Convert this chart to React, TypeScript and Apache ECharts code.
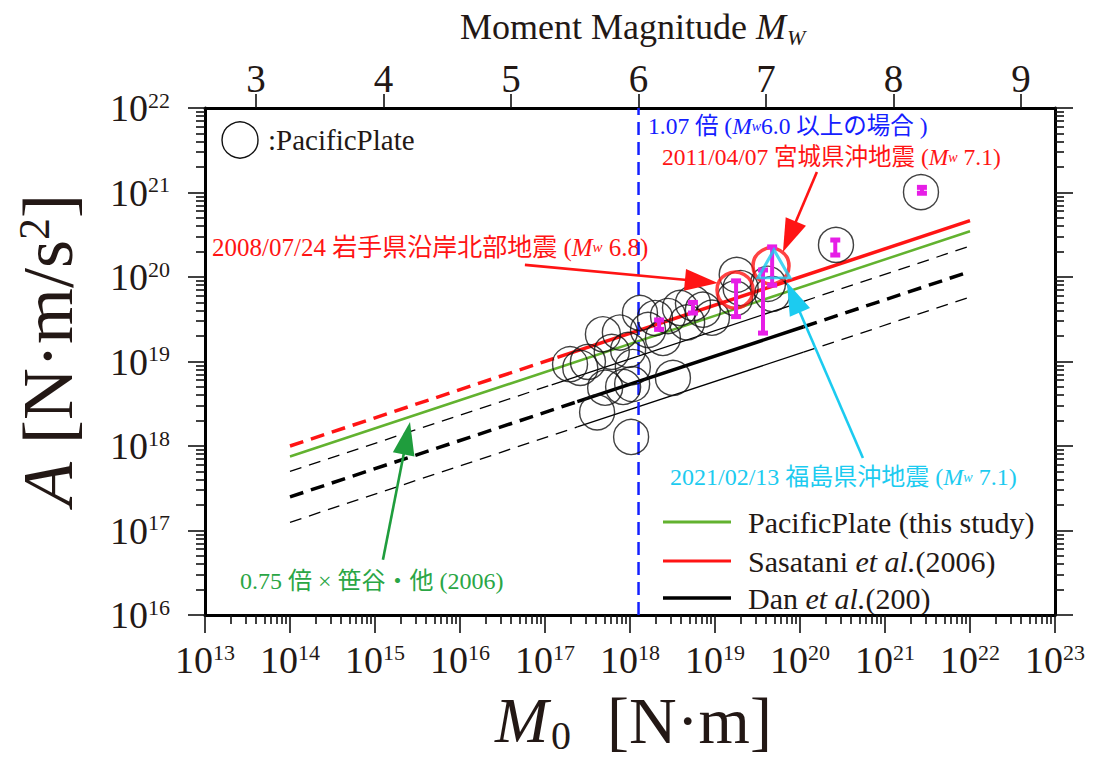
import React, { useEffect, useRef } from "react";
import * as echarts from "echarts";

// ---------- tick values ----------
const xMajorTicks = [1e13, 1e14, 1e15, 1e16, 1e17, 1e18, 1e19, 1e20, 1e21, 1e22, 1e23];
const yMajorTicks = [1e16, 1e17, 1e18, 1e19, 1e20, 1e21, 1e22];
const mwTicks = [3, 4, 5, 6, 7, 8, 9];
const minorMantissas = [2, 3, 4, 5, 6, 7, 8, 9];

// ---------- data (M0 [N·m], A [N·m/s^2]) ----------
const pacificCircles: [number, number][] = [
  [1.97e17, 9.3e18], [3.2e17, 9.9e18], [2.6e17, 8.4e18], [4.1e17, 2.5e18], [5.1e17, 4.9e18],
  [4.8e17, 2.1e19], [6.1e17, 1.3e19], [7.6e17, 2.2e19], [9.5e17, 1.37e19], [8.3e17, 5.0e18],
  [1.06e18, 5.4e18], [1.08e18, 8.6e18], [1.03e18, 1.28e18], [1.31e18, 3.75e19], [1.63e18, 2.36e19],
  [1.97e18, 3.27e19], [2.44e18, 1.9e19], [2.8e18, 3.45e19], [3.2e18, 6.4e18], [3.87e18, 4.3e19],
  [4.7e18, 2.9e19], [5.5e18, 4.9e19], [7.2e18, 4.1e19], [9.2e18, 3.3e19], [1.8e19, 1.06e20],
  [2.0e19, 7.4e19], [1.72e19, 5.6e19], [4.2e19, 8.3e19], [4.7e19, 6.3e19], [2.65e20, 2.4e20],
  [2.65e21, 1.01e21],
];
const highlightCircles: [number, number][] = [[1.72e19, 7.0e19], [4.56e19, 1.35e20]];
const fukushimaTriangle: [number, number][] = [[4.94e19, 1.43e20]];
// [M0, A low, A high]
const errorBars: [number, number, number][] = [
  [2.2e18, 2.4e19, 3.1e19], [5.5e18, 3.75e19, 5.0e19], [1.77e19, 3.4e19, 9.0e19],
  [3.67e19, 2.17e19, 1.21e20], [4.7e19, 8.0e19, 2.27e20], [2.6e20, 1.82e20, 2.74e20],
  [2.72e21, 9.8e20, 1.15e21],
];

const pacificLine: [number, number][] = [[1e14, 7.5e17], [1e22, 3.48e20]];
const sasataniDashed: [number, number][] = [[1e14, 1.0e18], [1.4e17, 1.12e19]];
const sasataniSolid: [number, number][] = [[1.4e17, 1.12e19], [1e22, 4.64e20]];
const danDashedLow: [number, number][] = [[1e14, 2.5e17], [2.4e17, 3.35e18]];
const danSolid: [number, number][] = [[2.4e17, 3.35e18], [1.1e20, 2.58e19]];
const danDashedHigh: [number, number][] = [[1.1e20, 2.58e19], [1e22, 1.16e20]];
const danUpperDashedLow: [number, number][] = [[1e14, 5.0e17], [1.2e17, 5.3e18]];
const danUpperSolid: [number, number][] = [[1.2e17, 5.3e18], [1.1e20, 5.16e19]];
const danUpperDashedHigh: [number, number][] = [[1.1e20, 5.16e19], [1e22, 2.32e20]];
const danLowerDashedLow: [number, number][] = [[1e14, 1.25e17], [2.4e17, 1.68e18]];
const danLowerSolid: [number, number][] = [[2.4e17, 1.68e18], [1.1e20, 1.29e19]];
const danLowerDashedHigh: [number, number][] = [[1.1e20, 1.29e19], [1e22, 5.8e19]];
const mw6Line: [number, number][] = [[1.26e18, 1e16], [1.26e18, 1e22]];

// arrows: [fromM0, fromA, toM0, toA]
const arrowData: number[][] = [
  [1.24e15, 4.5e16, 2.58e15, 1.92e18],
  [5.8e16, 1.39e20, 1.08e19, 8.5e19],
  [1.58e20, 1.75e21, 6.3e19, 1.98e20],
  [5.5e20, 7.2e17, 7.0e19, 8.7e19],
];

// ---------- styles ----------
const serif = "'Liberation Serif','Times New Roman',serif";
const jp = "'Liberation Serif','Noto Sans CJK JP',sans-serif";
const dark = "#231815";
const RED = "#ff1414";
const GREEN_LINE = "#62b22f";
const GREEN_TXT = "#2aa645";
const BLUE = "#1420ff";
const CYAN = "#1ccbf0";
const MAGENTA = "#e61ee6";
const arrowColors = ["#1f9d3d", RED, RED, CYAN];

const minorOf = (decs: number[]) => {
  const out: number[] = [];
  for (let i = 0; i < decs.length - 1; i++) for (const m of minorMantissas) out.push(decs[i] * m);
  return out;
};
// nudge the end values inward by a hair so the axis extent check keeps the end ticks
const safe = (arr: number[]) =>
  arr.map((v, i) => (i === 0 ? v * 1.000001 : i === arr.length - 1 ? v * 0.999999 : v));

const powLabel = (v: number) => `{b|10}{s|${Math.round(Math.log10(v))}}`;
const powRich = {
  b: { fontSize: 38, fontFamily: serif, color: dark, lineHeight: 38 },
  s: { fontSize: 22, fontFamily: serif, color: dark, lineHeight: 22, verticalAlign: "top" },
};
const tickStyle = { color: "#111", width: 1.6 };
const frameLine = { show: true, lineStyle: { color: "#000", width: 3 } };

const lineSeries = (data: [number, number][], color: string, width: number, type: any, z = 3, name?: string) => ({
  type: "line",
  name,
  data,
  xAxisIndex: 0,
  yAxisIndex: 0,
  symbol: "none",
  showSymbol: false,
  silent: true,
  z,
  lineStyle: { color, width, type, cap: "butt" },
});

const mwRich = (size: number, color: string) => ({
  i: { fontSize: size, fontFamily: serif, fontStyle: "italic", fill: color },
  w: { fontSize: Math.round(size * 0.6), fontFamily: serif, fontStyle: "italic", fill: color },
});

const txt = (x: number, y: number, text: string, fontSize: number, fill: string, extra: any = {}) => ({
  type: "text",
  x,
  y,
  silent: true,
  style: { text, fontSize, fontFamily: serif, fill, verticalAlign: "middle", ...extra },
});

function buildOption(): any {
  return {
    animation: false,
    backgroundColor: "#fff",
    grid: { left: 205, right: 39, top: 108, bottom: 146, show: false, outerBoundsMode: "none" },
    xAxis: [
      {
        type: "log", min: 1e13, max: 1e23, position: "bottom", gridIndex: 0,
        axisLine: frameLine, splitLine: { show: false },
        axisTick: { show: true, customValues: safe(xMajorTicks), length: 18, lineStyle: tickStyle },
        axisLabel: { customValues: safe(xMajorTicks), formatter: powLabel, margin: 26, rich: powRich },
      },
      {
        type: "log", min: 1e13, max: 1e23, position: "bottom", gridIndex: 0,
        axisLine: { show: false }, splitLine: { show: false }, axisLabel: { show: false },
        axisTick: { show: true, customValues: minorOf(xMajorTicks), length: 9, lineStyle: tickStyle },
      },
      {
        type: "value", min: 2.6, max: (23 - 9.1) / 1.5, position: "top", gridIndex: 0,
        axisLine: frameLine, splitLine: { show: false },
        axisTick: { show: true, customValues: mwTicks, length: 14, lineStyle: tickStyle },
        axisLabel: {
          customValues: mwTicks, margin: 14, fontSize: 39, fontFamily: serif, color: dark, lineHeight: 32,
          formatter: (v: number) => String(Math.round(v)),
        },
      },
    ],
    yAxis: [
      {
        type: "log", min: 1e16, max: 1e22, position: "left", gridIndex: 0,
        axisLine: frameLine, splitLine: { show: false },
        axisTick: { show: true, customValues: safe(yMajorTicks), length: 17, lineStyle: tickStyle },
        axisLabel: { customValues: safe(yMajorTicks), formatter: powLabel, margin: 35, rich: powRich },
      },
      {
        type: "log", min: 1e16, max: 1e22, position: "left", gridIndex: 0,
        axisLine: { show: false }, splitLine: { show: false }, axisLabel: { show: false },
        axisTick: { show: true, customValues: minorOf(yMajorTicks), length: 9, lineStyle: tickStyle },
      },
      {
        type: "log", min: 1e16, max: 1e22, position: "right", gridIndex: 0,
        axisLine: frameLine, splitLine: { show: false }, axisLabel: { show: false },
        axisTick: { show: true, customValues: safe(yMajorTicks), length: 18, lineStyle: tickStyle },
      },
      {
        type: "log", min: 1e16, max: 1e22, position: "right", gridIndex: 0,
        axisLine: { show: false }, splitLine: { show: false }, axisLabel: { show: false },
        axisTick: { show: true, customValues: minorOf(yMajorTicks), length: 9, lineStyle: tickStyle },
      },
    ],
    series: [
      lineSeries(danLowerDashedLow, "#000", 1.3, [12, 8]),
      lineSeries(danLowerSolid, "#000", 1.3, "solid"),
      lineSeries(danLowerDashedHigh, "#000", 1.3, [12, 8]),
      lineSeries(danUpperDashedLow, "#000", 1.3, [12, 8]),
      lineSeries(danUpperSolid, "#000", 1.3, "solid"),
      lineSeries(danUpperDashedHigh, "#000", 1.3, [12, 8]),
      lineSeries(danDashedLow, "#000", 3.5, [14, 8]),
      lineSeries(danSolid, "#000", 3.5, "solid", 3, "Dan et al.(200)"),
      lineSeries(danDashedHigh, "#000", 3.5, [14, 8]),
      lineSeries(pacificLine, GREEN_LINE, 2.5, "solid", 4, "PacificPlate (this study)"),
      lineSeries(sasataniDashed, RED, 3.5, [14, 8], 4),
      lineSeries(sasataniSolid, RED, 3.5, "solid", 4, "Sasatani et al.(2006)"),
      lineSeries(mw6Line, BLUE, 2.5, [13, 7], 5),
      {
        type: "scatter", data: pacificCircles, xAxisIndex: 0, yAxisIndex: 0, silent: true, z: 6,
        symbol: "circle", symbolSize: 35,
        itemStyle: { color: "rgba(0,0,0,0)", borderColor: "#111", borderWidth: 1.4 },
      },
      {
        type: "scatter", data: highlightCircles, xAxisIndex: 0, yAxisIndex: 0, silent: true, z: 7,
        symbol: "circle", symbolSize: 36,
        itemStyle: { color: "rgba(0,0,0,0)", borderColor: RED, borderWidth: 3.5 },
      },
      {
        type: "custom", data: errorBars, xAxisIndex: 0, yAxisIndex: 0, silent: true, z: 8,
        encode: { x: 0, y: [1, 2] },
        renderItem: (_p: any, api: any) => {
          const lo = api.coord([api.value(0), api.value(1)]);
          const hi = api.coord([api.value(0), api.value(2)]);
          return {
            type: "group",
            children: [
              { type: "line", shape: { x1: lo[0], y1: lo[1], x2: hi[0], y2: hi[1] }, style: { stroke: MAGENTA, lineWidth: 4 } },
              { type: "rect", shape: { x: lo[0] - 5, y: lo[1] - 2.5, width: 10, height: 5 }, style: { fill: MAGENTA } },
              { type: "rect", shape: { x: hi[0] - 5, y: hi[1] - 2.5, width: 10, height: 5 }, style: { fill: MAGENTA } },
            ],
          };
        },
      },
      {
        type: "scatter", data: fukushimaTriangle, xAxisIndex: 0, yAxisIndex: 0, silent: true, z: 9,
        symbol: "triangle", symbolSize: [32, 28],
        itemStyle: { color: "rgba(0,0,0,0)", borderColor: CYAN, borderWidth: 3 },
      },
      {
        type: "custom", data: arrowData, xAxisIndex: 0, yAxisIndex: 0, silent: true, z: 10,
        encode: { x: [0, 2], y: [1, 3] },
        renderItem: (params: any, api: any) => {
          const p1 = api.coord([api.value(0), api.value(1)]);
          const p2 = api.coord([api.value(2), api.value(3)]);
          const color = arrowColors[params.dataIndex];
          const dx = p2[0] - p1[0], dy = p2[1] - p1[1];
          const len = Math.hypot(dx, dy) || 1;
          const ux = dx / len, uy = dy / len;
          const hl = 33, hw = 11;
          const bx = p2[0] - ux * hl, by = p2[1] - uy * hl;
          return {
            type: "group",
            children: [
              { type: "line", shape: { x1: p1[0], y1: p1[1], x2: bx + ux * 2, y2: by + uy * 2 }, style: { stroke: color, lineWidth: 2.6 } },
              {
                type: "polygon",
                shape: { points: [[p2[0], p2[1]], [bx - uy * hw, by + ux * hw], [bx + uy * hw, by - ux * hw]] },
                style: { fill: color },
              },
            ],
          };
        },
      },
    ],
    graphic: [
      // top axis title: Moment Magnitude M_W
      txt(460, 27, "Moment Magnitude {i|M}", 36, dark, {
        rich: { i: { fontSize: 36, fontFamily: serif, fontStyle: "italic", fill: dark } },
      }),
      txt(787, 37, "W", 22, dark, { fontStyle: "italic" }),
      // bottom axis title: M0 [N·m]
      txt(495, 720, "M", 64, dark, { fontStyle: "italic", lineHeight: 50 }),
      txt(551, 735, "0", 40, dark, { lineHeight: 32 }),
      txt(607, 720, "[N·m]", 66, dark, { lineHeight: 50 }),
      // left axis title
      {
        type: "text", x: 48, y: 350, rotation: Math.PI / 2, silent: true,
        style: {
          text: "{i|A} [N·m/s{sup|2}]", fontSize: 72, fontFamily: serif, fill: dark,
          align: "center", verticalAlign: "middle",
          rich: {
            i: { fontSize: 72, fontFamily: serif, fontStyle: "italic", fill: dark, lineHeight: 72 },
            sup: { fontSize: 44, fontFamily: serif, fill: dark, lineHeight: 12, verticalAlign: "top" },
          },
        },
      },
      // PacificPlate marker legend
      { type: "circle", silent: true, shape: { cx: 240, cy: 140, r: 18 }, style: { fill: "none", stroke: "#111", lineWidth: 1.4 } },
      txt(268, 140, ":PacificPlate", 29, dark),
      // line legend
      { type: "line", silent: true, shape: { x1: 663, y1: 522, x2: 731, y2: 522 }, style: { stroke: GREEN_LINE, lineWidth: 3 } },
      { type: "line", silent: true, shape: { x1: 663, y1: 561, x2: 731, y2: 561 }, style: { stroke: RED, lineWidth: 3 } },
      { type: "line", silent: true, shape: { x1: 663, y1: 598, x2: 731, y2: 598 }, style: { stroke: "#000", lineWidth: 3.5 } },
      txt(748, 522, "PacificPlate (this study)", 30, dark),
      txt(748, 561, "Sasatani {i|et al.}(2006)", 30, dark, {
        rich: { i: { fontSize: 30, fontFamily: serif, fontStyle: "italic", fill: dark } },
      }),
      txt(748, 598, "Dan {i|et al.}(200)", 30, dark, {
        rich: { i: { fontSize: 30, fontFamily: serif, fontStyle: "italic", fill: dark } },
      }),
      // annotations
      {
        type: "text", x: 648, y: 126, silent: true,
        style: {
          text: "1.07 倍 ({i|M}{w|w}6.0 以上の場合 )", fontSize: 23.5, fontFamily: jp, fill: BLUE, verticalAlign: "middle",
          rich: mwRich(23.5, BLUE),
        },
      },
      {
        type: "text", x: 662, y: 157, silent: true,
        style: {
          text: "2011/04/07 宮城県沖地震 ({i|M}{w|w} 7.1)", fontSize: 23.5, fontFamily: jp, fill: RED, verticalAlign: "middle",
          rich: mwRich(23.5, RED),
        },
      },
      {
        type: "text", x: 212, y: 247, silent: true,
        style: {
          text: "2008/07/24 岩手県沿岸北部地震 ({i|M}{w|w} 6.8)", fontSize: 25, fontFamily: jp, fill: RED, verticalAlign: "middle",
          rich: mwRich(25, RED),
        },
      },
      {
        type: "text", x: 670, y: 477, silent: true,
        style: {
          text: "2021/02/13 福島県沖地震 ({i|M}{w|w} 7.1)", fontSize: 24, fontFamily: jp, fill: CYAN, verticalAlign: "middle",
          rich: mwRich(24, CYAN),
        },
      },
      {
        type: "text", x: 240, y: 581, silent: true,
        style: {
          text: "0.75 倍 × 笹谷・他 (2006)", fontSize: 24, fontFamily: jp, fill: GREEN_TXT, verticalAlign: "middle",
        },
      },
    ],
  };
}

export default function App() {
  const ref = useRef<HTMLDivElement>(null);
  useEffect(() => {
    if (!ref.current) return;
    const chart = echarts.init(ref.current, null, { renderer: "svg" });
    chart.setOption(buildOption());
    return () => chart.dispose();
  }, []);
  return (
    <div
      ref={ref}
      style={{ position: "absolute", left: 0, top: 0, width: 1094, height: 761, background: "#fff" }}
    />
  );
}
